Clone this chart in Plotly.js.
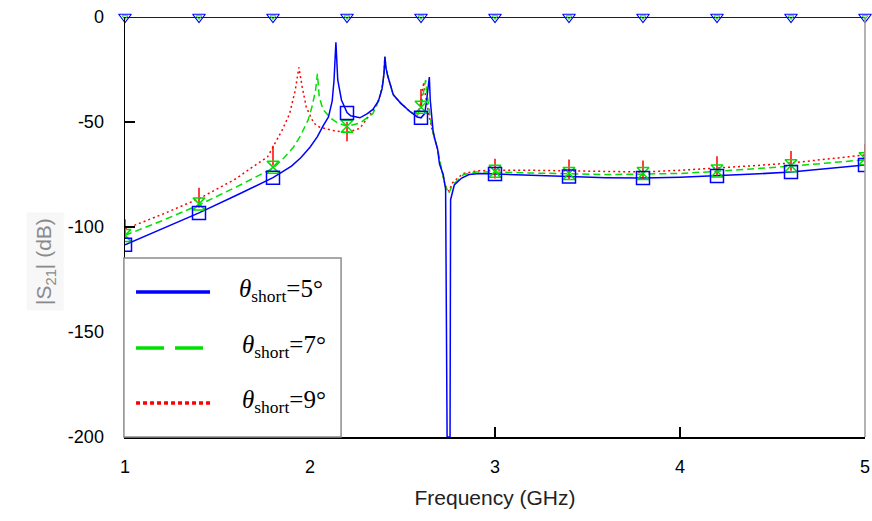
<!DOCTYPE html>
<html>
<head>
<meta charset="utf-8">
<script src="https://cdn.plot.ly/plotly-3.0.1.min.js"></script>
<style>html,body{margin:0;padding:0;background:#fff;}#chart{width:872px;height:521px;}</style>
</head>
<body>
<div id="chart"></div>
<script>
// theta_short = 5 deg (blue, solid)
const freq5 = [1.0,1.2,1.4,1.6,1.8,1.9,1.95,2.0,2.04,2.07,2.1,2.12,2.13,2.14,2.15,2.17,2.2,2.22,2.27,2.31,2.34,2.37,2.39,2.40,2.405,2.41,2.42,2.45,2.49,2.54,2.58,2.6,2.62,2.63,2.64,2.645,2.65,2.665,2.676,2.69,2.70,2.72,2.733,2.741,2.757,2.76,2.78,2.82,2.86,2.92,3.0,3.2,3.4,3.6,3.8,4.0,4.2,4.4,4.6,4.8,5.0];
const s21_5 = [-108.5,-101,-93.3,-85,-76.5,-71,-67,-62,-57,-52,-47.6,-40,-30,-12,-30,-39.5,-45.5,-47,-48,-46,-44,-40,-34,-27,-19,-24,-28,-37,-41,-45,-47.6,-48,-46,-40,-32,-28.6,-39.5,-54,-58.6,-63,-70,-75,-82,-200,-200,-87,-80,-76.7,-75,-74.5,-74.8,-75.5,-76,-76.5,-76.7,-76.3,-75.7,-74.8,-73.8,-72,-70.5];

// theta_short = 7 deg (green, dashed)
const freq7 = [1.0,1.2,1.4,1.6,1.8,1.86,1.91,1.946,1.99,2.01,2.03,2.04,2.05,2.07,2.11,2.15,2.2,2.27,2.34,2.37,2.39,2.40,2.405,2.41,2.42,2.45,2.49,2.54,2.58,2.6,2.615,2.625,2.635,2.65,2.665,2.69,2.71,2.73,2.75,2.77,2.8,2.83,2.9,3.0,3.2,3.4,3.6,3.8,4.0,4.2,4.4,4.6,4.8,5.0];
const s21_7 = [-104,-97,-89.5,-81,-72,-67,-62,-57,-49,-43,-35,-27,-38,-44,-48,-50.5,-52,-50.5,-46,-40,-34,-27,-19,-24,-28,-37,-41,-45,-47,-43,-35,-30,-38,-48,-55,-63,-72,-80,-84,-80,-77.6,-75,-73.8,-73.8,-74.3,-74.8,-75,-74.8,-74.5,-73.5,-72.3,-71,-69.5,-68];

// theta_short = 9 deg (red, dotted)
const freq9 = [1.0,1.2,1.4,1.6,1.69,1.77,1.85,1.89,1.92,1.94,1.957,1.98,2.02,2.05,2.12,2.2,2.27,2.32,2.36,2.38,2.395,2.40,2.405,2.41,2.42,2.45,2.49,2.54,2.57,2.59,2.6,2.61,2.615,2.625,2.64,2.655,2.67,2.69,2.71,2.73,2.75,2.77,2.8,2.83,2.9,3.0,3.2,3.4,3.6,3.8,4.0,4.2,4.4,4.6,4.8,5.0];
const s21_9 = [-101,-94,-86.5,-77,-71.4,-66.7,-53.8,-46,-35,-24,-33,-43,-50.5,-52.4,-54,-55,-53,-46.7,-42,-37,-31,-26,-19,-24,-28,-37,-41,-45,-46.5,-44,-40,-34,-31,-38,-46,-52,-57,-63,-72,-80,-83,-79,-76.5,-74.5,-73.3,-72.9,-73,-73.3,-73.6,-73.8,-73,-72,-70.8,-69.5,-67.5,-65.7];

// marker positions
const markFreq = [1.0,1.4,1.8,2.2,2.6,3.0,3.4,3.8,4.2,4.6,5.0];
const mark5 = [-108.5,-93.3,-76.5,-45.7,-48,-74.8,-76,-76.7,-75.7,-73.8,-70.5];
const mark7 = [-104,-89,-71.5,-52,-43,-73.5,-74.5,-74.5,-73.3,-70.8,-67.5];
const mark9 = [-101,-86,-66,-54.5,-39,-72.2,-72.5,-73,-71,-68.5,-65];

// trace at 0 dB along the top
const topFreq = [1.0,1.4,1.8,2.2,2.6,3.0,3.4,3.8,4.2,4.6,5.0];
const topVals = [0,0,0,0,0,0,0,0,0,0,0];

// tick labels
const xTickVals = [1,2,3,4,5];
const xTickText = ['1','2','3','4','5'];
const yTickVals = [0,-50,-100,-150,-200];
const yTickText = ['0','-50','-100','-150','-200'];

const SERIF = "font-family:'Liberation Serif','Times New Roman',serif";
const legendNames = [
  '<span style="' + SERIF + '"><i>θ</i><sub>short</sub>=5°</span>',
  '<span style="' + SERIF + '"><i>θ</i><sub>short</sub>=7°</span>',
  '<span style="' + SERIF + '"><i>θ</i><sub>short</sub>=9°</span>'
];
const BLUE = '#0000ff', GREEN = '#00e000', RED = '#ff0000';

const traces = [
  {x: freq9, y: s21_9, mode: 'lines', name: 'θshort=9°', line: {color: RED, width: 1.5, dash: '2px,3px'}, showlegend: false},
  {x: freq7, y: s21_7, mode: 'lines', name: 'θshort=7°', line: {color: GREEN, width: 1.5, dash: '7px,4px'}, showlegend: false},
  {x: freq5, y: s21_5, mode: 'lines', name: 'θshort=5°', line: {color: BLUE, width: 1.5}, showlegend: false},
  {x: markFreq, y: mark9, mode: 'markers', marker: {symbol: 'line-ns-open', size: 14, color: RED, line: {color: RED, width: 1.5}}, showlegend: false, hoverinfo: 'skip'},
  {x: markFreq, y: mark7, mode: 'markers', marker: {symbol: 'hourglass-open', size: 12, color: GREEN, line: {color: GREEN, width: 1.5}}, showlegend: false, hoverinfo: 'skip'},
  {x: markFreq, y: mark5, mode: 'markers', marker: {symbol: 'square-open', size: 13, color: BLUE, line: {color: BLUE, width: 1.5}}, showlegend: false, hoverinfo: 'skip'},
  {x: topFreq, y: topVals, mode: 'lines+markers', line: {color: BLUE, width: 2}, marker: {symbol: 'triangle-down-open', size: 11, color: BLUE, line: {color: BLUE, width: 1.2}}, showlegend: false, hoverinfo: 'skip', cliponaxis: false},
  {x: topFreq, y: topVals, mode: 'markers', marker: {symbol: 'triangle-down-open', size: 5, color: GREEN, line: {color: GREEN, width: 1}}, showlegend: false, hoverinfo: 'skip', cliponaxis: false}
];

// custom legend geometry (paper coords)
const legRows = [0.345, 0.212, 0.081];
const legColors = [BLUE, GREEN, RED];
const legDash = ['solid', '28px,11px', '4px,3px'];
const shapes = [
  {type: 'rect', xref: 'paper', yref: 'paper', x0: -0.0015, x1: 0.292, y0: 0, y1: 0.426, fillcolor: '#ffffff', line: {color: '#8c8c8c', width: 1.5}, layer: 'above'},
  {type: 'line', xref: 'paper', yref: 'paper', x0: 1, x1: 1, y0: 0, y1: 1, line: {color: '#9a9a9a', width: 1.5}}
];
const annotations = [];
legRows.forEach((yy, i) => {
  shapes.push({type: 'line', xref: 'paper', yref: 'paper', x0: 0.0149, x1: 0.1149, y0: yy, y1: yy, line: {color: legColors[i], width: 3.5, dash: legDash[i]}, layer: 'above'});
  annotations.push({xref: 'paper', yref: 'paper', x: i === 0 ? 0.152 : 0.156, y: yy + 0.003, xanchor: 'left', yanchor: 'middle', showarrow: false, text: legendNames[i], font: {family: 'Liberation Serif', size: 25, color: '#000'}});
});
annotations.push({xref: 'paper', yref: 'paper', x: -0.108, y: 0.417, xanchor: 'center', yanchor: 'middle', textangle: -90, showarrow: false, bgcolor: '#f7f7f7', borderpad: 5, text: '|S<sub>21</sub>| (dB)', font: {family: 'Arial', size: 21, color: '#8a8a8a'}});

const layout = {
  width: 872, height: 521,
  margin: {l: 125, r: 7, t: 17, b: 84},
  paper_bgcolor: '#ffffff', plot_bgcolor: '#ffffff',
  showlegend: false,
  font: {family: 'Arial', size: 18, color: '#000'},
  xaxis: {
    range: [1, 5], tickvals: xTickVals, ticktext: xTickText,
    ticks: 'inside', ticklen: 10, tickwidth: 1.5, tickcolor: '#000',
    showline: true, linecolor: '#000', linewidth: 1.5, showgrid: false, zeroline: false,
    tickfont: {family: 'Arial', size: 18, color: '#000'}, ticklabelstandoff: 13,
    title: {text: 'Frequency (GHz)', font: {family: 'Arial', size: 21, color: '#222'}, standoff: 14}
  },
  yaxis: {
    range: [-200, 0], tickvals: yTickVals, ticktext: yTickText,
    ticks: 'inside', ticklen: 10, tickwidth: 1.5, tickcolor: '#000',
    showline: true, linecolor: '#000', linewidth: 1.5, showgrid: false, zeroline: false,
    tickfont: {family: 'Arial', size: 18, color: '#000'}, ticklabelstandoff: 16
  },
  shapes: shapes,
  annotations: annotations
};

Plotly.newPlot('chart', traces, layout, {displayModeBar: false, staticPlot: true});
</script>
</body>
</html>
